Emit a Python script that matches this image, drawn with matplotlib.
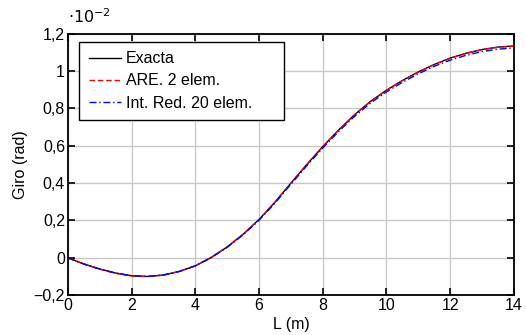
import numpy as np
import matplotlib.pyplot as plt
from matplotlib.ticker import FuncFormatter

# values (units of 1e-2 rad)
L = [0, 0.5, 1, 1.5, 2, 2.5, 3, 3.5, 4, 4.5, 5, 5.5, 6, 6.5, 7,
     7.5, 8, 8.5, 9, 9.5, 10, 10.5, 11, 11.5, 12, 12.5, 13, 13.5, 14]
exacta = [0, -0.033, -0.060, -0.082, -0.096, -0.100, -0.092, -0.073, -0.043,
          0.002, 0.058, 0.126, 0.205, 0.298, 0.400, 0.500, 0.596, 0.685,
          0.767, 0.838, 0.898, 0.950, 0.996, 1.036, 1.070, 1.096, 1.116,
          1.129, 1.135]
are2 = [0, -0.034, -0.061, -0.083, -0.097, -0.101, -0.093, -0.073, -0.043,
        0.002, 0.058, 0.126, 0.205, 0.298, 0.400, 0.499, 0.595, 0.684,
        0.766, 0.837, 0.897, 0.949, 0.995, 1.035, 1.069, 1.095, 1.115,
        1.128, 1.134]
intred20 = [0, -0.033, -0.060, -0.082, -0.096, -0.100, -0.092, -0.073, -0.043,
            0.001, 0.056, 0.123, 0.201, 0.293, 0.394, 0.493, 0.588, 0.677,
            0.758, 0.829, 0.889, 0.940, 0.986, 1.026, 1.059, 1.085, 1.105,
            1.118, 1.124]
labels = ['Exacta', 'ARE. 2 elem.', 'Int. Red. 20 elem.']

plt.rcParams['font.family'] = ['Liberation Sans', 'DejaVu Sans']
plt.rcParams['font.size'] = 11.5

fig = plt.figure(figsize=(5.26, 3.35), dpi=100)
ax = fig.add_axes([0.129, 0.119, 0.848, 0.780])

ax.plot(L, exacta, color='black', lw=1.0, label=labels[0])
ax.plot(L, are2, color='red', lw=1.0, ls=(0, (4, 2)), label=labels[1])
# trailing spaces give the wider legend box of the original
ax.plot(L, intred20, color='blue', lw=1.0, ls=(0, (5, 2, 1, 2)),
        label=labels[2] + '\u2007' * 2 + ' ')

ax.set_xlim(0, 14)
ax.set_ylim(-0.2, 1.2)
ax.set_xticks(np.arange(0, 15, 2))
ax.set_yticks([-0.2, 0, 0.2, 0.4, 0.6, 0.8, 1.0, 1.2])


def fmt(v, pos):
    s = ('%.1f' % v).rstrip('0').rstrip('.')
    if s in ('-0', '−0'):
        s = '0'
    return s.replace('.', ',').replace('-', '\u2212')


ax.yaxis.set_major_formatter(FuncFormatter(fmt))
ax.grid(True, color='#c8c8c8', lw=1.0)
ax.set_axisbelow(True)
ax.tick_params(direction='in', length=5, width=1.2, top=True, right=True, labelsize=11.5, pad=2)
for sp in ax.spines.values():
    sp.set_linewidth(1.3)

ax.set_xlabel('L (m)', fontsize=11.5, labelpad=3)
ax.set_ylabel('Giro (rad)', fontsize=11.5, labelpad=4)
ax.text(0.0, 1.03, r'$\cdot 10^{-2}$', transform=ax.transAxes, fontsize=11.5,
        ha='left', va='bottom')

leg = ax.legend(loc='upper left', bbox_to_anchor=(0.025, 0.97), fancybox=False,
                edgecolor='black', framealpha=1, fontsize=11.5, handlelength=2.0,
                handletextpad=0.35, borderpad=0.6, labelspacing=0.45,
                borderaxespad=0)
leg.get_frame().set_linewidth(1.0)

plt.savefig('out.png', dpi=100)
plt.close()
